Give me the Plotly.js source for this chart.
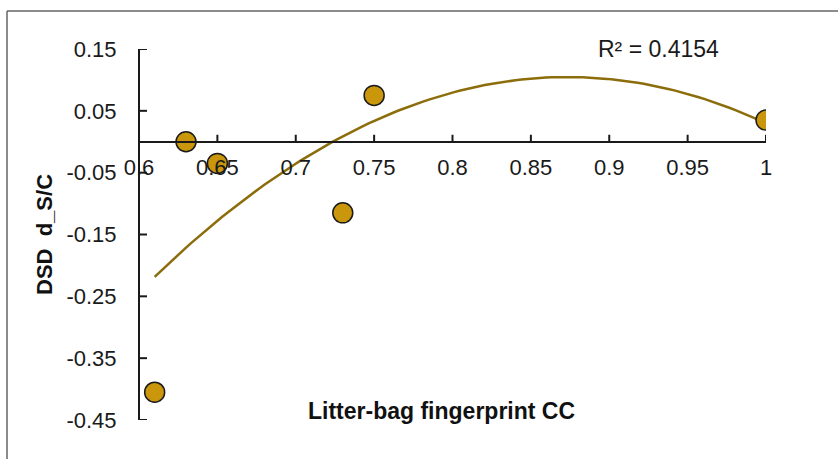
<!DOCTYPE html>
<html>
<head>
<meta charset="utf-8">
<script src="https://cdn.plot.ly/plotly-3.0.1.min.js"></script>
<style>html,body{margin:0;padding:0;background:#fff;}#chart{width:838px;height:459px;}</style>
</head>
<body>
<div id="chart"></div>
<script>
// Data
const ccValues = [0.61, 0.63, 0.65, 0.73, 0.75, 1.0];
const dsdValues = [-0.405, 0.0, -0.035, -0.115, 0.075, 0.035];
const xTickVals = [0.6, 0.65, 0.7, 0.75, 0.8, 0.85, 0.9, 0.95, 1];
const xTickText = ["0.6", "0.65", "0.7", "0.75", "0.8", "0.85", "0.9", "0.95", "1"];
const yTickVals = [0.15, 0.05, -0.05, -0.15, -0.25, -0.35, -0.45];
const yTickText = ["0.15", "0.05", "-0.05", "-0.15", "-0.25", "-0.35", "-0.45"];
const r2Label = "R² = 0.4154";

// Quadratic least-squares trendline (as Excel's order-2 polynomial)
function polyfit2(xs, ys) {
  let S = [0,0,0,0,0], T = [0,0,0];
  for (let i = 0; i < xs.length; i++) {
    let p = 1;
    for (let k = 0; k < 5; k++) { S[k] += p; if (k < 3) T[k] += p * ys[i]; p *= xs[i]; }
  }
  const A = [[S[0],S[1],S[2],T[0]],[S[1],S[2],S[3],T[1]],[S[2],S[3],S[4],T[2]]];
  for (let c = 0; c < 3; c++) {
    for (let r = c + 1; r < 3; r++) {
      const f = A[r][c] / A[c][c];
      for (let k = c; k < 4; k++) A[r][k] -= f * A[c][k];
    }
  }
  const sol = [0,0,0];
  for (let r = 2; r >= 0; r--) {
    let s = A[r][3];
    for (let k = r + 1; k < 3; k++) s -= A[r][k] * sol[k];
    sol[r] = s / A[r][r];
  }
  return sol;
}
const coef = polyfit2(ccValues, dsdValues);
const xmin = Math.min(...ccValues), xmax = Math.max(...ccValues);
const trendX = [], trendY = [];
for (let i = 0; i <= 100; i++) {
  const x = xmin + (xmax - xmin) * i / 100;
  trendX.push(x);
  trendY.push(coef[0] + coef[1] * x + coef[2] * x * x);
}

const fontFam = "Liberation Sans, Arial, sans-serif";
const axisColor = '#1a1a1a';
const plotW = 838 - 139 - 72, plotH = 459 - 49 - 39;
const xAxisPos = 0.75; // paper fraction where y = 0 sits

const traces = [
  {
    x: trendX, y: trendY, type: 'scatter', mode: 'lines',
    line: {color: '#8C6D0B', width: 2.5}, hoverinfo: 'skip', showlegend: false
  },
  {
    x: ccValues, y: dsdValues, type: 'scatter', mode: 'markers',
    marker: {size: 20, color: '#C9960C', line: {color: '#1a1a1a', width: 1.5}},
    showlegend: false
  }
];

// tick marks drawn as short lines at the tick values
const tickShapes = [];
yTickVals.forEach(v => tickShapes.push({
  type: 'line', xref: 'paper', yref: 'y', x0: 0, x1: 8 / plotW, y0: v, y1: v,
  line: {color: axisColor, width: 2}, layer: 'above'
}));
xTickVals.forEach(v => tickShapes.push({
  type: 'line', xref: 'x', yref: 'paper', x0: v, x1: v, y0: xAxisPos, y1: xAxisPos + 7 / plotH,
  line: {color: axisColor, width: 2}, layer: 'above'
}));

const layout = {
  width: 838, height: 459,
  margin: {l: 139, r: 72, t: 49, b: 39},
  paper_bgcolor: '#ffffff', plot_bgcolor: 'rgba(0,0,0,0)',
  showlegend: false,
  font: {family: fontFam, size: 22, color: '#1a1a1a'},
  xaxis: {
    range: [0.6, 1.0], anchor: 'free', position: xAxisPos,
    tickvals: xTickVals, ticktext: xTickText,
    ticks: '', 
    showline: true, linecolor: axisColor, linewidth: 2,
    showgrid: false, zeroline: false,
    tickfont: {family: fontFam, size: 22, color: '#1a1a1a'},
    ticklabelstandoff: 6
  },
  yaxis: {
    range: [-0.45, 0.15], anchor: 'free', position: 0,
    tickvals: yTickVals, ticktext: yTickText,
    ticks: '',
    showline: true, linecolor: axisColor, linewidth: 2,
    showgrid: false, zeroline: false,
    tickfont: {family: fontFam, size: 22, color: '#1a1a1a'},
    ticklabelstandoff: 17
  },
  annotations: [
    {text: '<b>Litter-bag fingerprint CC</b>', xref: 'paper', yref: 'paper',
     x: 0.4817, y: 0.0243, xanchor: 'center', yanchor: 'middle', showarrow: false,
     font: {family: fontFam, size: 23, color: '#111'}},
    {text: '<b>DSD\u00a0\u00a0d_S/C</b>', xref: 'paper', yref: 'paper',
     x: -0.1499, y: 0.4987, xanchor: 'center', yanchor: 'middle', showarrow: false, textangle: -90,
     font: {family: fontFam, size: 22, color: '#111'}},
    {text: r2Label, xref: 'paper', yref: 'paper',
     x: 0.8293, y: 0.9987, xanchor: 'center', yanchor: 'middle', showarrow: false,
     font: {family: fontFam, size: 23, color: '#1a1a1a'}}
  ],
  shapes: [
    {type: 'line', xref: 'paper', yref: 'paper', x0: -0.2105, x1: 1.2, y0: 1.1024, y1: 1.1024,
     line: {color: '#666', width: 1.5}},
    {type: 'line', xref: 'paper', yref: 'paper', x0: -0.2105, x1: -0.2105, y0: 1.1024, y1: -0.2,
     line: {color: '#666', width: 1.5}}
  ].concat(tickShapes)
};

Plotly.newPlot('chart', traces, layout, {displayModeBar: false, staticPlot: true});
</script>
</body>
</html>
